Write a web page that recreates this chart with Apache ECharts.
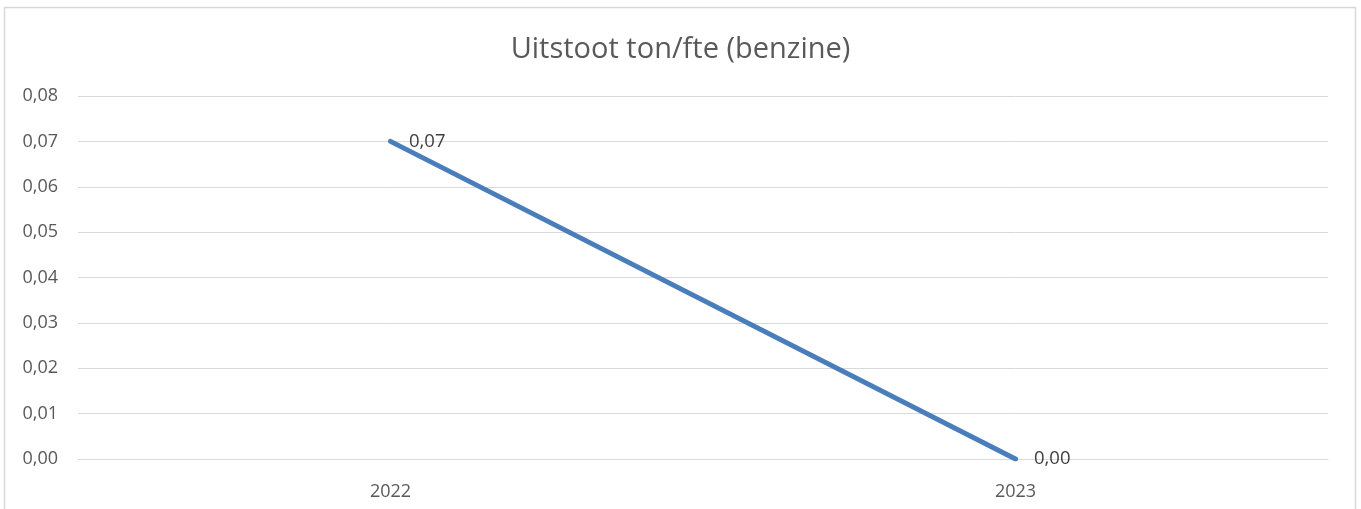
<!DOCTYPE html>
<html>
<head>
<meta charset="utf-8">
<script src="https://cdn.jsdelivr.net/npm/echarts@6/dist/echarts.min.js"></script>
<style>
html,body{margin:0;padding:0;background:#fff;}
#c{width:1361px;height:509px;}
</style>
</head>
<body>
<div id="c"></div>
<script>
const categories = ['2022', '2023'];
const values = [0.07, 0.00];
const titleText = 'Uitstoot ton/fte (benzine)';

const fmt = v => Number(v).toFixed(2).replace('.', ',');
const font = '"Open Sans", "Noto Sans", sans-serif';

const chart = echarts.init(document.getElementById('c'), null, {renderer: 'canvas'});
chart.setOption({
  animation: false,
  backgroundColor: '#fff',
  textStyle: {fontFamily: font},
  graphic: [{
    type: 'rect', shape: {x: 4.5, y: 7.5, width: 1351, height: 520},
    style: {fill: 'none', stroke: '#d9d9d9', lineWidth: 1.5}, silent: true
  }],
  title: {
    text: titleText, left: 'center', top: 30,
    textStyle: {fontFamily: font, fontSize: 29, fontWeight: 'normal', color: '#595959'}
  },
  grid: {left: 78, right: 33, top: 96, bottom: 50, containLabel: false},
  xAxis: {
    type: 'category', data: categories, boundaryGap: true,
    axisLine: {show: true, lineStyle: {color: '#d9d9d9', width: 1}},
    axisTick: {show: false},
    axisLabel: {color: '#595959', fontSize: 18, margin: 24, fontFamily: font},
    splitLine: {show: false}
  },
  yAxis: {
    type: 'value', min: 0, max: 0.08, interval: 0.01,
    axisLine: {show: false}, axisTick: {show: false},
    axisLabel: {color: '#595959', fontSize: 18, margin: 20, fontFamily: font, formatter: fmt},
    splitLine: {lineStyle: {color: '#d9d9d9', width: 1}}
  },
  series: [{
    type: 'line', data: values,
    symbol: 'circle', symbolSize: 1, showSymbol: true,
    itemStyle: {color: '#4a7ebb', borderWidth: 0},
    lineStyle: {color: '#4a7ebb', width: 5, cap: 'round'},
    label: {show: true, position: 'right', distance: 18, color: '#404040', fontSize: 18.5, fontFamily: font, formatter: p => fmt(p.value), offset: [0, 0]}
  }]
});
</script>
</body>
</html>
